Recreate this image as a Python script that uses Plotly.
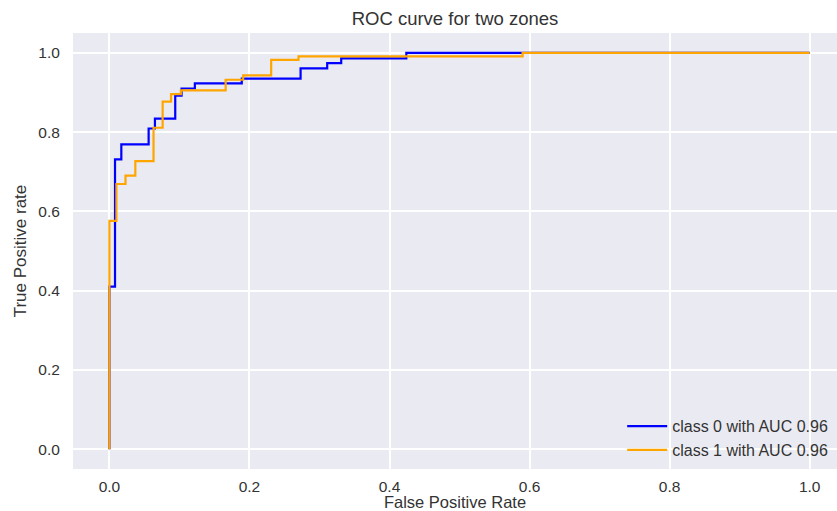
import plotly.graph_objects as go

# ROC points (fpr, tpr); drawn as steps
fpr_class0 = [0.0, 0.0, 0.008, 0.017, 0.056, 0.065, 0.094, 0.103, 0.122, 0.189, 0.273, 0.311, 0.331, 0.424, 1.0]
tpr_class0 = [0.0, 0.41, 0.731, 0.769, 0.809, 0.834, 0.892, 0.910, 0.923, 0.935, 0.961, 0.974, 0.986, 1.0, 1.0]

fpr_class1 = [0.0, 0.0, 0.010, 0.023, 0.037, 0.063, 0.076, 0.088, 0.102, 0.166, 0.191, 0.231, 0.270, 0.590, 1.0]
tpr_class1 = [0.0, 0.576, 0.669, 0.690, 0.727, 0.811, 0.877, 0.896, 0.905, 0.932, 0.943, 0.982, 0.991, 1.0, 1.0]

names = ["class 0 with AUC 0.96", "class 1 with AUC 0.96"]
colors = ["#0000FF", "#FFA500"]
tick_vals = [0.0, 0.2, 0.4, 0.6, 0.8, 1.0]
tick_text = ["0.0", "0.2", "0.4", "0.6", "0.8", "1.0"]

FONT = "Liberation Sans, Arial, sans-serif"
TXT = "#333333"

fig = go.Figure()
for fx, ty, nm, col in [(fpr_class0, tpr_class0, names[0], colors[0]),
                        (fpr_class1, tpr_class1, names[1], colors[1])]:
    fig.add_trace(go.Scatter(x=fx, y=ty, mode="lines", name=nm,
                             line=dict(color=col, width=2.2, shape="hv")))

fig.update_layout(
    width=837, height=511,
    margin=dict(l=73, r=0, t=33, b=42),
    paper_bgcolor="white", plot_bgcolor="#EAEAF2",
    font=dict(family=FONT, color=TXT, size=15),
    title=dict(text="ROC curve for two zones", x=0.5, xref="paper", xanchor="center",
               y=1 - 19 / 511, yref="container", yanchor="middle",
               font=dict(size=18.5, color=TXT, family=FONT)),
    showlegend=True,
    legend=dict(x=0.995, xanchor="right", y=0.004, yanchor="bottom",
                bgcolor="rgba(0,0,0,0)", font=dict(size=16, color=TXT),
                tracegroupgap=0, itemwidth=40),
)
fig.update_xaxes(range=[-0.052, 1.039], tickvals=tick_vals, ticktext=tick_text,
                 showgrid=True, gridcolor="white", gridwidth=1.6, zeroline=False,
                 showline=False, ticks="outside", ticklen=3, tickcolor="rgba(0,0,0,0)",
                 tickfont=dict(size=15.5, color=TXT), automargin=False,
                 title=dict(text="False Positive Rate", font=dict(size=16.5, color=TXT), standoff=8))
fig.update_yaxes(range=[-0.05, 1.05], tickvals=tick_vals, ticktext=tick_text,
                 showgrid=True, gridcolor="white", gridwidth=1.6, zeroline=False,
                 showline=False, ticks="outside", ticklen=9, tickcolor="rgba(0,0,0,0)",
                 tickfont=dict(size=15.5, color=TXT), automargin=False,
                 title=dict(text="True Positive rate", font=dict(size=17, color=TXT), standoff=7))

fig.write_html("out.html", config={"displayModeBar": False},
               post_script="document.body.style.margin='0';")
